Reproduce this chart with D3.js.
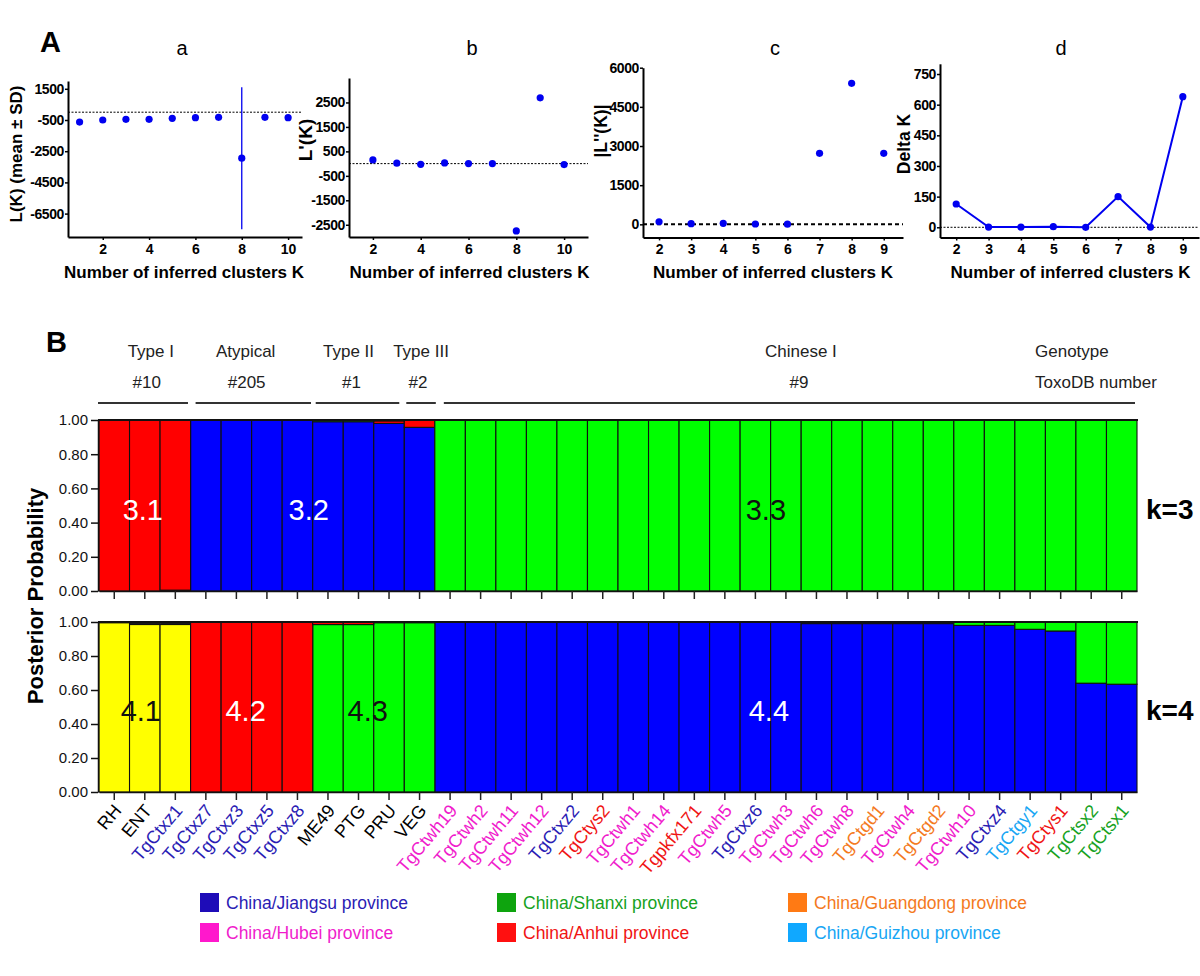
<!DOCTYPE html>
<html><head><meta charset="utf-8">
<script src="https://cdn.jsdelivr.net/npm/d3@7"></script>
<style>body{margin:0;background:#fff}svg text{font-family:Arial,"Liberation Sans",Helvetica,sans-serif}</style>
</head><body><svg id="c" width="1200" height="976"></svg>
<script>
// ---------- Panel A data ----------
const kA = [1,2,3,4,5,6,7,8,9,10];
const lkMean = [-630,-500,-455,-455,-390,-350,-330,-2950,-330,-350];
const lkSD = [0,0,0,0,0,0,0,4550,0,0];
const kB = [2,3,4,5,6,7,8,9,10];
const lPrime = [150,20,-30,30,0,0,-2750,2690,-40];
const kC = [2,3,4,5,6,7,8,9];
const lDouble = [100,25,38,13,5,2720,5400,2720];
const kD = [2,3,4,5,6,7,8,9];
const deltaK = [114,1,1,3,0,150,1,639];
const ticksAy = [1500,-500,-2500,-4500,-6500];
const ticksBy = [2500,1500,500,-500,-1500,-2500];
const ticksCy = [0,1500,3000,4500,6000];
const ticksDy = [0,150,300,450,600,750];
const ticksAx = [2,4,6,8,10];
const ticksCx = [2,3,4,5,6,7,8,9];

// ---------- Panel B data ----------
const strains = ["RH","ENT","TgCtxz1","TgCtxz7","TgCtxz3","TgCtxz5","TgCtxz8","ME49","PTG","PRU","VEG",
 "TgCtwh19","TgCtwh2","TgCtwh11","TgCtwh12","TgCtxz2","TgCtys2","TgCtwh1","TgCtwh14","Tgpkfx171","TgCtwh5",
 "TgCtxz6","TgCtwh3","TgCtwh6","TgCtwh8","TgCtgd1","TgCtwh4","TgCtgd2","TgCtwh10","TgCtxz4","TgCtgy1","TgCtys1","TgCtsx2","TgCtsx1"];
const origins = ["ref","ref","Jiangsu","Jiangsu","Jiangsu","Jiangsu","Jiangsu","ref","ref","ref","ref",
 "Hubei","Hubei","Hubei","Hubei","Jiangsu","Anhui","Hubei","Hubei","Anhui","Hubei",
 "Jiangsu","Hubei","Hubei","Hubei","Guangdong","Hubei","Guangdong","Hubei","Jiangsu","Guizhou","Anhui","Shanxi","Shanxi"];
const Z23 = new Array(23).fill(0), O23 = new Array(23).fill(1);
const k3Blue  = [0,0,0.005,1,1,1,1,0.99,0.99,0.98,0.957].concat(Z23);
const k3Red   = [1,1,0.995,0,0,0,0,0,0,0.015,0.043].concat(Z23);
const k3Green = [0,0,0,0,0,0,0,0.01,0.01,0.005,0].concat(O23);
const k4Blue  = [0,0,0,0,0,0,0,0,0,0,0, 1,1,1,1,1,1,1,1,1,1,1,1,0.99,0.99,0.99,0.99,0.99,0.98,0.98,0.957,0.947,0.64,0.634];
const k4Yellow= [0.995,0.985,0.985,0,0,0,0,0,0,0,0].concat(Z23);
const k4Green = [0,0,0,0,0,0,0,0.985,0.985,0.995,0.995, 0,0,0,0,0,0,0,0,0,0,0,0,0,0,0,0,0,0.02,0.02,0.043,0.053,0.36,0.366];
const k4Red   = [0,0,0,1,1,1,1,0.015,0.015,0,0].concat(Z23);
const genotypes = ["Type I","Atypical","Type II","Type III","Chinese I"];
const toxoNumbers = ["#10","#205","#1","#2","#9"];
const groupStart = [0,3,7,10,11];
const groupEnd = [3,7,10,11,34];
const k3Labels = ["3.1","3.2","3.3"];
const k4Labels = ["4.1","4.2","4.3","4.4"];
const provinceKeys = ["Jiangsu","Hubei","Shanxi","Anhui","Guangdong","Guizhou"];
const provinceNames = ["China/Jiangsu province","China/Hubei province","China/Shanxi province","China/Anhui province","China/Guangdong province","China/Guizhou province"];
const yTicksBar = [0,0.2,0.4,0.6,0.8,1.0];

// ---------- styles / layout ----------
const provColor = {Jiangsu:"#2a1cb4",Hubei:"#f01ccc",Shanxi:"#16a21e",Anhui:"#f01414",Guangdong:"#f47a1e",Guizhou:"#18a6f4",ref:"#000"};
const provSquare = {Jiangsu:"#1e0cb8",Hubei:"#ff18cc",Shanxi:"#0ea40e",Anhui:"#ff1010",Guangdong:"#ff7a14",Guizhou:"#10a8ff"};
const C = {blue:"#0000ff",red:"#ff0000",green:"#00ff00",yellow:"#ffff00"};
const DOT = "#0000f0";
const nameDx = [6,-6,-10,1.5,15], numDx = [2,-5,-7,-1.5,13];
const lineInset = [[-1,2.6],[5,1.7],[3,5],[2,-1],[9,2]];

const svg = d3.select("#c");
const fmt = d => String(d);

svg.append("text").attr("x",40).attr("y",52).attr("font-size",29).attr("font-weight","bold").text("A");
svg.append("text").attr("x",46).attr("y",352).attr("font-size",29).attr("font-weight","bold").text("B");

function panel(cfg){
  const g = svg.append("g");
  const x = d3.scaleLinear().domain(cfg.xd).range(cfg.xr);
  const y = d3.scaleLinear().domain(cfg.yd).range(cfg.yr);
  g.append("line").attr("x1",cfg.xr[0]).attr("x2",cfg.xr[1]).attr("y1",y(0)).attr("y2",y(0))
    .attr("stroke","#000").attr("stroke-width",cfg.zw).attr("stroke-dasharray",cfg.zd);
  const ya = d3.axisLeft(y).tickValues(cfg.yt).tickSize(3).tickSizeOuter(0).tickPadding(1).tickFormat(fmt);
  const xa = d3.axisBottom(x).tickValues(cfg.xt).tickSize(3).tickSizeOuter(0).tickPadding(4).tickFormat(fmt);
  const gy = g.append("g").attr("transform",`translate(${cfg.xr[0]},0)`).call(ya);
  const gx = g.append("g").attr("transform",`translate(0,${cfg.yr[0]})`).call(xa);
  [gy,gx].forEach(a=>{
    a.select(".domain").attr("stroke","#000").attr("stroke-width",2);
    a.selectAll(".tick line").attr("stroke","#000").attr("stroke-width",1.5);
    a.selectAll("text").attr("font-size",14).attr("font-weight","bold").attr("fill","#000")
      .attr("font-family",'Arial,"Liberation Sans",sans-serif');
  });
  gy.selectAll("text").attr("letter-spacing",-0.4);
  if(cfg.line){
    g.append("path").datum(cfg.kk.map((k,i)=>[k,cfg.vals[i]]))
      .attr("d",d3.line().x(d=>x(d[0])).y(d=>y(d[1]))).attr("fill","none").attr("stroke",DOT).attr("stroke-width",2);
  }
  if(cfg.sd){
    const idx = cfg.kk.map((k,i)=>i).filter(i=>cfg.sd[i]>0);
    g.selectAll("line.err").data(idx).enter().append("line")
      .attr("x1",i=>x(cfg.kk[i])).attr("x2",i=>x(cfg.kk[i]))
      .attr("y1",i=>y(cfg.vals[i]+cfg.sd[i])).attr("y2",i=>y(cfg.vals[i]-cfg.sd[i]))
      .attr("stroke",DOT).attr("stroke-width",1.3);
  }
  g.selectAll("circle").data(cfg.kk).enter().append("circle")
    .attr("cx",d=>x(d)).attr("cy",(d,i)=>y(cfg.vals[i])).attr("r",3.6).attr("fill",DOT);
  g.append("text").attr("x",cfg.title[1]).attr("y",55).attr("text-anchor","middle").attr("font-size",20).text(cfg.title[0]);
  g.append("text").attr("x",(cfg.xr[0]+cfg.xr[1])/2+cfg.xlo).attr("y",278).attr("text-anchor","middle")
    .attr("font-size",17).attr("font-weight","bold").text("Number of inferred clusters K");
  g.append("text").attr("transform",`translate(${cfg.ylab[1]},${cfg.ylab[2]}) rotate(-90)`).attr("text-anchor","middle")
    .attr("font-size",cfg.ylab[3]).attr("font-weight","bold").text(cfg.ylab[0]);
}

panel({xd:[0.5,10.6],xr:[68,302],yd:[-8000,2000],yr:[237,81],yt:ticksAy,xt:ticksAx,kk:kA,vals:lkMean,sd:lkSD,
  zw:1,zd:"2,1.5",title:["a",182],xlo:-1,ylab:["L(K) (mean ± SD)",22,154,17]});
panel({xd:[1,11],xr:[349,588],yd:[-3000,3500],yr:[237,78],yt:ticksBy,xt:ticksAx,kk:kB,vals:lPrime,
  zw:1,zd:"2,1.5",title:["b",472],xlo:1,ylab:["L'(K)",312,140,19]});
panel({xd:[1.5,9.6],xr:[643,903],yd:[-500,6000],yr:[237.4,67.7],yt:ticksCy,xt:ticksCx,kk:kC,vals:lDouble,
  zw:2,zd:"4,3",title:["c",775],xlo:0,ylab:["|L''(K)|",607,131,17.5]});
panel({xd:[1.5,9.5],xr:[940,1199],yd:[-50,800],yr:[237.5,63.8],yt:ticksDy,xt:ticksCx,kk:kD,vals:deltaK,line:true,
  zw:1,zd:"2,1.5",title:["d",1061],xlo:1,ylab:["Delta K",910,144,17.5]});

// ---------- Panel B ----------
const xb = d3.scaleBand().domain(strains).range([99,1137]).padding(0);
const bw = xb.bandwidth();

const gh = svg.append("g");
genotypes.forEach((gname,i)=>{
  const x0 = xb(strains[groupStart[i]]), x1 = xb(strains[groupEnd[i]-1])+bw;
  const cx = (x0+x1)/2;
  gh.append("text").attr("x",cx+nameDx[i]).attr("y",357).attr("text-anchor","middle").attr("font-size",17).attr("fill","#222").text(gname);
  gh.append("text").attr("x",cx+numDx[i]).attr("y",388).attr("text-anchor","middle").attr("font-size",17).attr("fill","#222").text(toxoNumbers[i]);
  gh.append("line").attr("x1",x0+lineInset[i][0]).attr("x2",x1-lineInset[i][1]).attr("y1",403).attr("y2",403).attr("stroke","#333").attr("stroke-width",2);
});
gh.append("text").attr("x",1035).attr("y",357).attr("font-size",17).attr("fill","#222").text("Genotype");
gh.append("text").attr("x",1035).attr("y",388).attr("font-size",17).attr("fill","#222").text("ToxoDB number");

function barChart(keys, series, y0, y1, labels, labelColors, kText){
  const g = svg.append("g");
  const y = d3.scaleLinear().domain([0,1]).range([y0,y1]);
  g.selectAll(null).data(strains).enter().append("rect")
    .attr("x",d=>xb(d)).attr("width",bw).attr("y",y(1)).attr("height",y(0)-y(1)).attr("fill","#1a1a1a");
  const rows = strains.map((s,i)=>{const o={strain:s}; keys.forEach((k,j)=>o[k]=series[j][i]); return o;});
  const st = d3.stack().keys(keys)(rows);
  st.forEach(layer=>{
    g.selectAll(null).data(layer.filter(d=>d[1]-d[0]>0)).enter().append("rect")
      .attr("x",d=>xb(d.data.strain)).attr("width",bw)
      .attr("y",d=>y(d[1])).attr("height",d=>y(d[0])-y(d[1]))
      .attr("fill",C[layer.key]).attr("stroke","#111").attr("stroke-width",1.1);
  });
  g.append("line").attr("x1",98).attr("x2",1138).attr("y1",y(1)).attr("y2",y(1)).attr("stroke","#111").attr("stroke-width",2.2);
  const ya = d3.axisLeft(y).tickValues(yTicksBar).tickSize(7).tickSizeOuter(0).tickPadding(3).tickFormat(d3.format(".2f"));
  const gy = g.append("g").attr("transform","translate(98,0)").call(ya);
  gy.select(".domain").attr("stroke","#111").attr("stroke-width",1.5);
  gy.selectAll(".tick line").attr("stroke","#111").attr("stroke-width",1.5);
  gy.selectAll("text").attr("font-size",15).attr("fill","#111").attr("font-family",'Arial,"Liberation Sans",sans-serif');
  const xa = d3.axisBottom(xb).tickSize(8).tickSizeOuter(0).tickFormat("");
  const gx = g.append("g").attr("transform",`translate(0,${y0})`).call(xa);
  gx.select(".domain").attr("stroke","#111").attr("stroke-width",1.5);
  gx.selectAll(".tick line").attr("stroke","#222").attr("stroke-width",1.5);
  labels.forEach((lab,i)=>{
    const gs = lab.grp;
    const x0 = xb(strains[gs[0]]), x1 = xb(strains[gs[1]-1])+bw;
    g.append("text").attr("x",(x0+x1)/2+lab.dx).attr("y",(y0+y1)/2+14).attr("text-anchor","middle")
      .attr("font-size",29).attr("fill",labelColors[i]).text(lab.t);
  });
  g.append("text").attr("x",1146).attr("y",(y0+y1)/2+13).attr("font-size",28).attr("font-weight","bold").text(kText);
  return y;
}

barChart(["blue","red","green"],[k3Blue,k3Red,k3Green],591,420,
  [{t:k3Labels[0],grp:[0,3],dx:-2},{t:k3Labels[1],grp:[3,11],dx:-4},{t:k3Labels[2],grp:[11,34],dx:-20}],
  ["#fff","#fff","#111"],"k=3");
barChart(["blue","yellow","green","red"],[k4Blue,k4Yellow,k4Green,k4Red],792,622,
  [{t:k4Labels[0],grp:[0,3],dx:-4},{t:k4Labels[1],grp:[3,7],dx:-6},{t:k4Labels[2],grp:[7,11],dx:-6},{t:k4Labels[3],grp:[11,34],dx:-17}],
  ["#111","#fff","#111","#fff"],"k=4");

svg.append("g").selectAll("text").data(strains).enter().append("text")
  .attr("transform",d=>`translate(${xb(d)+bw/2+8},${811}) rotate(-50)`)
  .attr("text-anchor","end").attr("font-size",18)
  .attr("fill",(d,i)=>provColor[origins[i]]).text(d=>d);

svg.append("text").attr("transform","translate(43,596) rotate(-90)").attr("text-anchor","middle")
  .attr("font-size",22).attr("font-weight","bold").text("Posterior Probability");

const colX = [200,497,788], rowY = [893,923];
const lg = svg.append("g");
provinceKeys.forEach((k,i)=>{
  const cx = colX[Math.floor(i/2)], ry = rowY[i%2];
  lg.append("rect").attr("x",cx).attr("y",ry).attr("width",19).attr("height",19).attr("fill",provSquare[k]);
  lg.append("text").attr("x",cx+26).attr("y",ry+16).attr("font-size",17.5).attr("fill",provColor[k]).text(provinceNames[i]);
});
</script>
</body></html>
